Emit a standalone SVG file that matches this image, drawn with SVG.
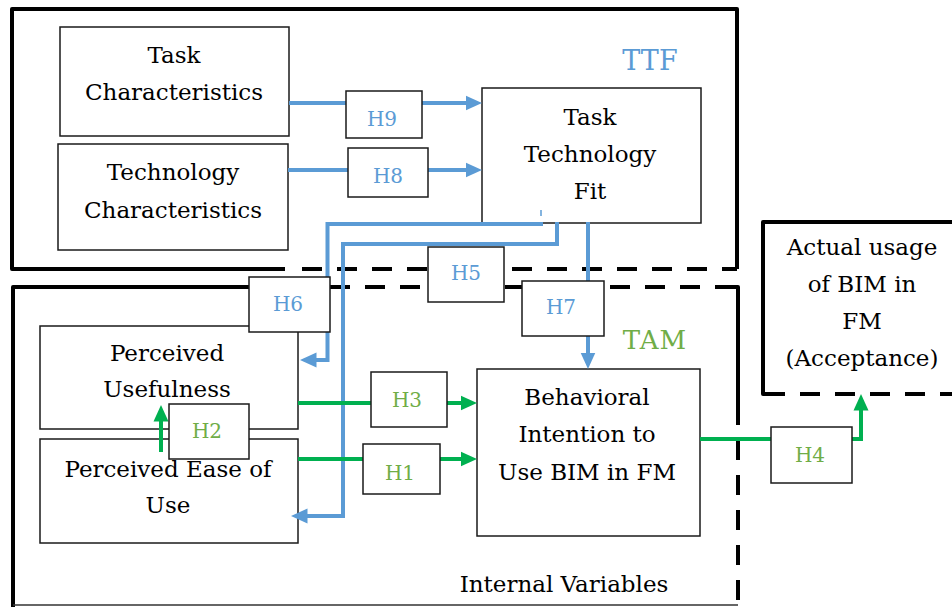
<svg xmlns="http://www.w3.org/2000/svg" width="952" height="607" viewBox="0 0 952 607">
<style>
.frame{fill:none;stroke:#000;stroke-width:4;stroke-linejoin:round}
.dash{fill:none;stroke:#000;stroke-width:4;stroke-dasharray:20 15}
.node{fill:#fff;stroke:#1a1a1a;stroke-width:1.5}
.lbl{fill:#fff;stroke:#1a1a1a;stroke-width:1.5}
.t{font-family:"DejaVu Serif","Liberation Serif",serif;font-size:23px;fill:#000;text-anchor:middle}
.h{font-family:"DejaVu Serif","Liberation Serif",serif;font-size:20px;text-anchor:middle}
.hb{fill:#5B9BD5}
.hg{fill:#70AD47}
.bl{fill:none;stroke:#5B9BD5;stroke-width:4}
.gr{fill:none;stroke:#00B050;stroke-width:4}
</style>
<defs>
<marker id="ab" markerUnits="userSpaceOnUse" markerWidth="17" markerHeight="16" viewBox="0 -8 17 16" refX="0.5" refY="0" orient="auto"><path d="M0,-7.5 L16.5,0 L0,7.5 Z" fill="#5B9BD5"/></marker>
<marker id="ag" markerUnits="userSpaceOnUse" markerWidth="17" markerHeight="16" viewBox="0 -8 17 16" refX="0.5" refY="0" orient="auto"><path d="M0,-7.5 L16.5,0 L0,7.5 Z" fill="#00B050"/></marker>
</defs>

<g id="frames">
  <path class="frame" d="M285,269 L12,269 L12,9 L737,9 L737,269"/>
  <line class="dash" x1="302" y1="269" x2="737" y2="269"/>
  <text x="650" y="70" font-family="DejaVu Serif, Liberation Serif, serif" font-size="27" fill="#5B9BD5" text-anchor="middle">TTF</text>
  <path class="frame" d="M350,287 L13,287 L13,607"/>
  <line class="dash" x1="365" y1="287" x2="718" y2="287"/>
  <path class="frame" d="M715,287 L738,287 L738,425"/>
  <line class="dash" x1="738" y1="440" x2="738" y2="607"/>
  <line x1="13" y1="605" x2="738" y2="605" stroke="#333" stroke-width="1.5"/>
  <text x="655" y="349" font-family="DejaVu Serif, Liberation Serif, serif" font-size="26" fill="#70AD47" text-anchor="middle" letter-spacing="1">TAM</text>
  <text class="t" x="564" y="592">Internal Variables</text>
</g>

<g id="task-char">
  <rect class="node" x="60" y="27" width="229" height="109"/>
  <text class="t" x="174" y="63">Task</text>
  <text class="t" x="174" y="100">Characteristics</text>
</g>
<g id="tech-char">
  <rect class="node" x="58" y="144" width="230" height="106"/>
  <text class="t" x="173" y="180">Technology</text>
  <text class="t" x="173" y="218">Characteristics</text>
</g>
<g id="ttf">
  <rect class="node" x="482" y="88" width="219" height="135"/>
  <text class="t" x="590" y="125">Task</text>
  <text class="t" x="590" y="162">Technology</text>
  <text class="t" x="590" y="199">Fit</text>
</g>
<g id="pu">
  <rect class="node" x="40" y="326" width="258" height="103"/>
  <text class="t" x="167" y="361">Perceived</text>
  <text class="t" x="167" y="397">Usefulness</text>
</g>
<g id="peou">
  <rect class="node" x="40" y="439" width="258" height="104"/>
  <text class="t" x="168" y="477">Perceived Ease of</text>
  <text class="t" x="168" y="513">Use</text>
</g>
<g id="bi">
  <rect class="node" x="477" y="369" width="223" height="167"/>
  <text class="t" x="587" y="405">Behavioral</text>
  <text class="t" x="587" y="442">Intention to</text>
  <text class="t" x="587" y="480">Use BIM in FM</text>
</g>
<g id="actual">
  <path class="frame" d="M785,394 L763,394 L763,222 L954,222"/>
  <line class="dash" x1="800" y1="394" x2="952" y2="394"/>
  <text class="t" x="862" y="255">Actual usage</text>
  <text class="t" x="862" y="292">of BIM in</text>
  <text class="t" x="862" y="329">FM</text>
  <text class="t" x="862" y="366">(Acceptance)</text>
</g>

<g id="connectors">
  <line class="bl" x1="289" y1="103" x2="466" y2="103" marker-end="url(#ab)"/>
  <line class="bl" x1="288" y1="170" x2="466" y2="170" marker-end="url(#ab)"/>
  <line x1="541" y1="210" x2="541" y2="216" stroke="#5B9BD5" stroke-width="1.5"/>
  <path class="bl" d="M543,224 L327.5,224 L327.5,360 L316,360" marker-end="url(#ab)"/>
  <path class="bl" d="M557,222 L557,244 L343,244 L343,516 L307,516" marker-end="url(#ab)"/>
  <line class="bl" x1="588" y1="222" x2="588" y2="353" marker-end="url(#ab)"/>
  <line class="gr" x1="298" y1="403" x2="461" y2="403" marker-end="url(#ag)"/>
  <line class="gr" x1="298" y1="459" x2="461" y2="459" marker-end="url(#ag)"/>
  <line class="gr" x1="161" y1="452" x2="161" y2="421" marker-end="url(#ag)"/>
  <path class="gr" d="M700,439 L861,439 L861,410" marker-end="url(#ag)"/>

  <g id="h9"><rect class="lbl" x="346" y="91" width="76" height="47"/><text class="h hb" x="382" y="126">H9</text></g>
  <g id="h8"><rect class="lbl" x="348" y="148" width="80" height="49"/><text class="h hb" x="388" y="183">H8</text></g>
  <g id="h6"><rect class="lbl" x="249" y="277" width="81" height="55"/><text class="h hb" x="288" y="311">H6</text></g>
  <g id="h5"><rect class="lbl" x="428" y="247" width="76" height="55"/><text class="h hb" x="466" y="280">H5</text></g>
  <g id="h7"><rect class="lbl" x="522" y="281" width="82" height="55"/><text class="h hb" x="561" y="314">H7</text></g>
  <g id="h2"><rect class="lbl" x="169" y="404" width="80" height="55"/><text class="h hg" x="207" y="438">H2</text></g>
  <g id="h3"><rect class="lbl" x="371" y="372" width="76" height="55"/><text class="h hg" x="407" y="407">H3</text></g>
  <g id="h1"><rect class="lbl" x="363" y="444" width="77" height="50"/><text class="h hg" x="400" y="480">H1</text></g>
  <g id="h4"><rect class="lbl" x="771" y="427" width="81" height="56"/><text class="h hg" x="810" y="462">H4</text></g>
</g>
</svg>
